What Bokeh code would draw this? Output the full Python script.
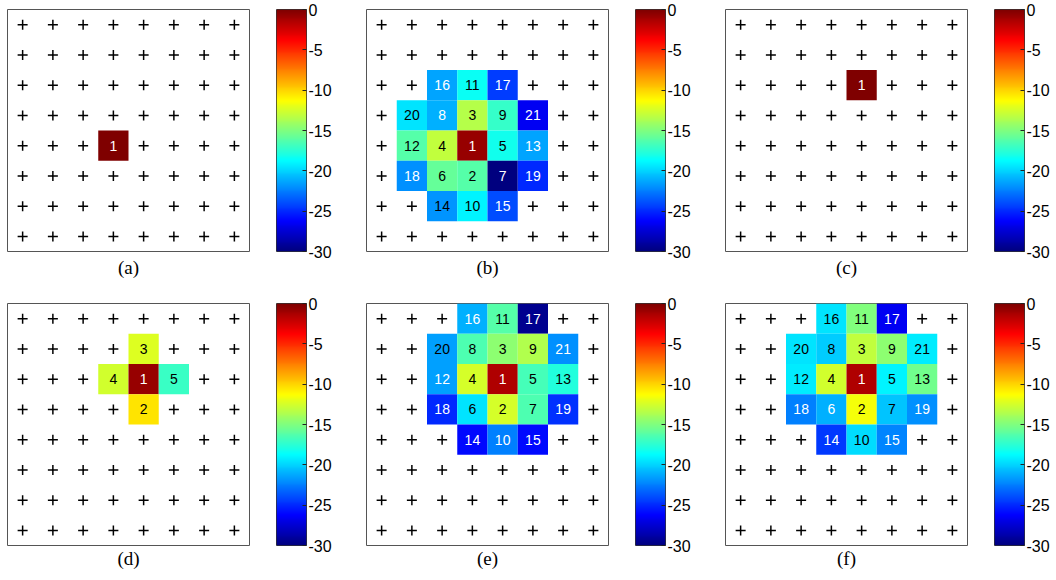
import numpy as np
from bokeh.plotting import figure
from bokeh.models import ColumnDataSource, LinearColorMapper, FixedTicker, Range1d
from bokeh.layouts import column, row
from bokeh.embed import file_html
from bokeh.resources import INLINE
from bokeh.core.properties import value

# ---------------- data ----------------
grid_n = 8
cbar_ticks = [0, -5, -10, -15, -20, -25, -30]
cbar_tick_labels = ["0", "-5", "-10", "-15", "-20", "-25", "-30"]
panel_names = ["(a)", "(b)", "(c)", "(d)", "(e)", "(f)"]

a_labels = ["1"]
a_col = [4]
a_row = [5]
a_val = [0]
a_white = ["1"]

b_labels = ["16", "11", "17", "20", "8", "3", "9", "21", "12", "4", "1", "5", "13",
            "18", "6", "2", "7", "19", "14", "10", "15"]
b_col = [3, 4, 5, 2, 3, 4, 5, 6, 2, 3, 4, 5, 6, 2, 3, 4, 5, 6, 3, 4, 5]
b_row = [3, 3, 3, 4, 4, 4, 4, 4, 5, 5, 5, 5, 5, 6, 6, 6, 6, 6, 7, 7, 7]
b_val = [-21.4, -18.4, -24.4, -19.5, -21.0, -13.4, -17.2, -26.5, -16.2, -13.1, -0.8, -18.2, -21.4,
         -22.0, -15.8, -16.2, -30.0, -25.0, -21.8, -19.0, -24.0]
b_white = ["16", "17", "8", "21", "1", "13", "18", "7", "19", "15"]

c_labels = ["1"]
c_col = [5]
c_row = [3]
c_val = [0]
c_white = ["1"]

d_labels = ["3", "4", "1", "5", "2"]
d_col = [5, 4, 5, 6, 5]
d_row = [2, 3, 3, 3, 4]
d_val = [-12.3, -12.6, -0.8, -17.0, -10.5]
d_white = ["1"]

e_labels = ["16", "11", "17", "20", "8", "3", "9", "21", "12", "4", "1", "5", "13",
            "18", "6", "2", "7", "19", "14", "10", "15"]
e_col = [4, 5, 6, 3, 4, 5, 6, 7, 3, 4, 5, 6, 7, 3, 4, 5, 6, 7, 4, 5, 6]
e_row = [1, 1, 1, 2, 2, 2, 2, 2, 3, 3, 3, 3, 3, 4, 4, 4, 4, 4, 5, 5, 5]
e_val = [-21.0, -16.2, -29.5, -21.5, -16.5, -14.6, -13.5, -22.0, -21.5, -12.5, -1.5, -16.7, -17.8,
         -25.0, -19.5, -12.5, -16.5, -24.8, -26.0, -22.5, -26.0]
e_white = ["16", "17", "21", "12", "1", "18", "19", "14", "10", "15"]

f_labels = ["16", "11", "17", "20", "8", "3", "9", "21", "12", "4", "1", "5", "13",
            "18", "6", "2", "7", "19", "14", "10", "15"]
f_col = [4, 5, 6, 3, 4, 5, 6, 7, 3, 4, 5, 6, 7, 3, 4, 5, 6, 7, 4, 5, 6]
f_row = [1, 1, 1, 2, 2, 2, 2, 2, 3, 3, 3, 3, 3, 4, 4, 4, 4, 4, 5, 5, 5]
f_val = [-19.5, -15.0, -26.5, -19.5, -20.2, -13.1, -14.6, -19.3, -19.3, -12.6, -1.5, -19.0, -15.4,
         -22.5, -21.0, -11.5, -20.5, -22.0, -24.5, -19.8, -22.3]
f_white = ["17", "1", "18", "6", "19", "14", "15"]

panels = [
    (a_labels, a_col, a_row, a_val, a_white),
    (b_labels, b_col, b_row, b_val, b_white),
    (c_labels, c_col, c_row, c_val, c_white),
    (d_labels, d_col, d_row, d_val, d_white),
    (e_labels, e_col, e_row, e_val, e_white),
    (f_labels, f_col, f_row, f_val, f_white),
]

# ---------------- jet colormap ----------------
def jet_palette(n=256):
    out = []
    for t in np.linspace(0, 1, n):
        r = np.clip(1.5 - abs(4 * t - 3), 0, 1)
        g = np.clip(1.5 - abs(4 * t - 2), 0, 1)
        b = np.clip(1.5 - abs(4 * t - 1), 0, 1)
        out.append("#%02x%02x%02x" % (int(r * 255), int(g * 255), int(b * 255)))
    return out

JET = jet_palette()
SANS = "Liberation Sans"
SERIF = "Liberation Serif"
CMIN, CMAX = min(cbar_ticks), max(cbar_ticks)

gx, gy = np.meshgrid(np.arange(1, grid_n + 1), np.arange(1, grid_n + 1))
cross_src = dict(x=gx.ravel(), y=gy.ravel())


def make_panel(idx, top_b, bottom_b, standoff, cb_right):
    labels, cols, rows, vals, white = panels[idx]
    mapper = LinearColorMapper(palette=JET, low=CMIN, high=CMAX)
    p = figure(frame_width=242, frame_height=242,
               x_range=Range1d(0.5, grid_n + 0.5), y_range=Range1d(grid_n + 0.5, 0.5),
               output_backend="svg", toolbar_location=None,
               min_border_left=7, min_border_top=top_b, min_border_right=27,
               min_border_bottom=bottom_b, title_location="below")
    p.title.text = panel_names[idx]
    p.title.align = "center"
    p.title.text_font = SERIF
    p.title.text_font_size = "19px"
    p.title.text_font_style = "normal"
    p.title.text_color = "black"
    p.title.standoff = standoff
    p.axis.visible = False
    p.grid.visible = False
    p.outline_line_color = "#555555"
    p.outline_line_width = 1

    p.scatter("x", "y", source=ColumnDataSource(cross_src), marker="cross",
              size=10, line_color="black", line_width=1.5)

    src = ColumnDataSource(dict(
        x=cols, y=rows, val=vals, text=labels,
        tc=["white" if l in white else "black" for l in labels]))
    p.rect("x", "y", width=1, height=1, source=src,
           fill_color={"field": "val", "transform": mapper}, line_color=None)
    p.text("x", "y", text="text", source=src, text_align="center", text_baseline="middle",
           text_font=value(SANS), text_font_size="14px", text_color="tc")

    # colour bar as its own small figure
    cb = figure(frame_width=30, frame_height=242,
                x_range=Range1d(0, 1), y_range=Range1d(CMIN, CMAX),
                y_axis_location="right", output_backend="svg", toolbar_location=None,
                min_border_left=0, min_border_top=top_b, min_border_right=cb_right,
                min_border_bottom=bottom_b)
    grad = np.linspace(CMIN, CMAX, 256).reshape(256, 1)
    cb.image(image=[grad], x=0, y=CMIN, dw=1, dh=CMAX - CMIN, color_mapper=mapper)
    cb.xaxis.visible = False
    cb.grid.visible = False
    cb.outline_line_color = "#333333"
    ax = cb.yaxis[0]
    ax.ticker = FixedTicker(ticks=cbar_ticks)
    ax.major_label_overrides = dict(zip(cbar_ticks, cbar_tick_labels))
    ax.axis_line_color = None
    ax.major_tick_in = 4
    ax.major_tick_out = 0
    ax.major_tick_line_color = "#222222"
    ax.minor_tick_line_color = None
    ax.major_label_standoff = 2
    ax.major_label_text_font = SANS
    ax.major_label_text_font_size = "16px"
    ax.major_label_text_color = "black"
    return row(p, cb)


top = row(make_panel(0, 9, 43, 6, 53), make_panel(1, 9, 43, 6, 53), make_panel(2, 9, 43, 6, 30))
bot = row(make_panel(3, 9, 33, 1, 53), make_panel(4, 9, 33, 1, 53), make_panel(5, 9, 33, 1, 30))
layout = column(top, bot)

open("out.html", "w").write(file_html(layout, INLINE))
